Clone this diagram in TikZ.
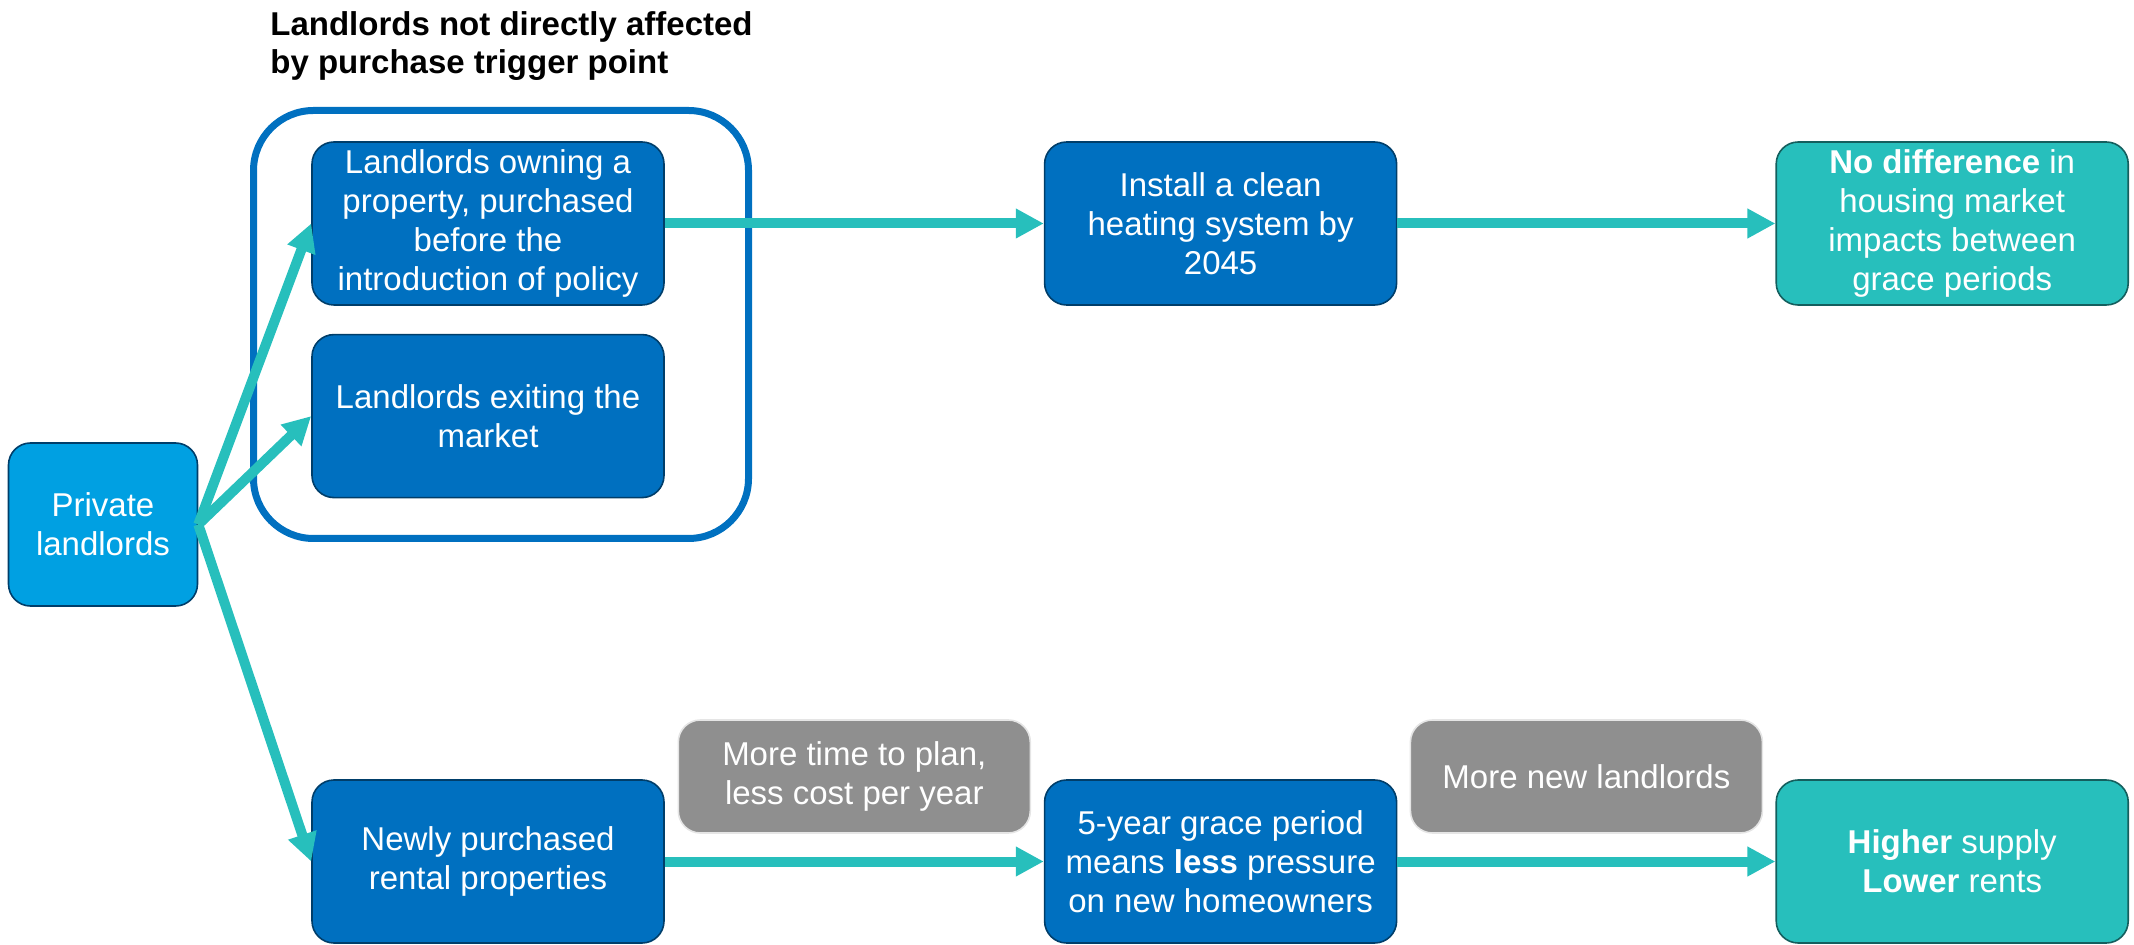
\documentclass[tikz,border=0pt]{standalone}
\usepackage{fontspec}
\setmainfont{Liberation Sans}
\usetikzlibrary{arrows.meta,positioning,calc}
\definecolor{dblue}{HTML}{0070C0}
\definecolor{lblue}{HTML}{00A0E2}
\definecolor{tealc}{HTML}{27BFBC}
\definecolor{gbox}{HTML}{8F8F8F}

\begin{document}
\begin{tikzpicture}[x=0.5pt,y=-0.5pt,
  font=\fontsize{16.5}{19.5}\selectfont,
  bx/.style={draw=dblue!55!black,line width=0.8pt,rounded corners=11pt,fill=dblue,text=white,align=center,minimum width=176pt,minimum height=81.5pt,inner sep=2pt},
  src/.style={bx,fill=lblue,minimum width=94.5pt},
  res/.style={bx,fill=tealc,draw=tealc!50!black},
  nt/.style={bx,fill=gbox,draw=black!10,minimum height=56.5pt},
  grp/.style={draw=dblue,line width=3.5pt,rounded corners=30pt,minimum width=247.5pt,minimum height=214pt},
  flow/.style={draw=tealc,line width=5pt,-{Triangle[length=14pt,width=14pt]}}]
\useasboundingbox (0,0) rectangle (2134,945);
% landlords not affected by the trigger
\node[grp] (frame) at (501,324.5) {};
\node[anchor=north west,inner sep=0pt,align=left,font=\fontsize{16.5}{19}\bfseries\selectfont] (ttl) at (270,11) {Landlords not directly affected\\by purchase trigger point};
\node[src] (priv) at (103,524.5) {Private\\landlords};
\node[bx] (own) at (488,223.5) {Landlords owning a\\property, purchased\\before the\\introduction of policy};
\node[bx,below=14pt of own] (exit) {Landlords exiting the\\market};
\node[bx,right=189.5pt of own] (inst) {Install a clean\\heating system by\\2045};
\node[res,right=189pt of inst] (nodiff) {\textbf{No difference} in\\housing market\\impacts between\\grace periods};
% newly purchased rentals
\node[bx] (newly) at (488,861.5) {Newly purchased\\rental properties};
\node[bx,right=189.5pt of newly] (grace) {5-year grace period\\means \textbf{less} pressure\\on new homeowners};
\node[res,right=189pt of grace] (supply) {\textbf{Higher} supply\\\textbf{Lower} rents};
\node[nt] (plan) at ($(newly.east)!.5!(grace.west)+(0,-85)$) {More time to plan,\\less cost per year};
\node[nt] (newll) at ($(grace.east)!.5!(supply.west)+(0,-85)$) {More new landlords};
\foreach \t in {own,exit,newly} \draw[flow] (priv.east)--(\t.west);
\foreach \x/\y in {own/inst,inst/nodiff,newly/grace,grace/supply} \draw[flow] (\x)--(\y);
\end{tikzpicture}
\end{document}
